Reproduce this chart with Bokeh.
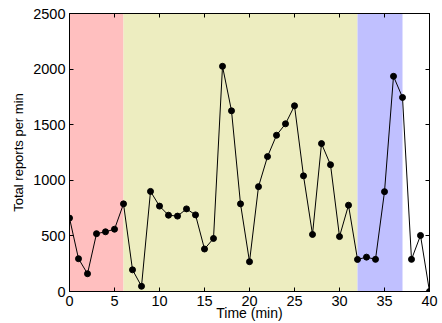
from bokeh.plotting import figure
from bokeh.models import LinearAxis, BoxAnnotation, FixedTicker, Range1d, ColumnDataSource
from bokeh.embed import file_html
from bokeh.resources import INLINE

# ---- data ----
minutes = list(range(41))
reports = [660, 295, 160, 520, 537, 560, 788, 195, 47, 900,
           768, 686, 678, 743, 689, 382, 477, 2025, 1625, 788,
           268, 943, 1213, 1405, 1508, 1670, 1040, 513, 1330, 1140,
           494, 776, 288, 309, 289, 898, 1935, 1745, 289, 504, 0]
phase_starts = [0, 6, 32]
phase_ends = [6, 32, 37]
phase_colors = ["#FFBFBF", "#EDEDC0", "#C0C0FF"]
x_ticks = [0, 5, 10, 15, 20, 25, 30, 35, 40]
y_ticks = [0, 500, 1000, 1500, 2000, 2500]
x_title = "Time (min)"
y_title = "Total reports per min"

FONT = "Liberation Sans"

p = figure(width=442, height=323, output_backend="svg", toolbar_location=None,
           x_range=Range1d(0, 40), y_range=Range1d(0, 2500),
           min_border_left=69, min_border_right=13, min_border_top=13, min_border_bottom=32)
p.background_fill_color = "white"
p.border_fill_color = "white"
p.outline_line_color = "black"
p.xgrid.visible = False
p.ygrid.visible = False

for s, e, c in zip(phase_starts, phase_ends, phase_colors):
    p.add_layout(BoxAnnotation(left=s, right=e, fill_color=c, fill_alpha=1.0,
                               line_alpha=0, level="underlay"))

src = ColumnDataSource(dict(x=minutes, y=reports))
p.line("x", "y", source=src, line_color="black", line_width=1)
p.scatter("x", "y", source=src, size=6, fill_color="black", line_color="black")

def style(ax, ticks, show_labels):
    ax.ticker = FixedTicker(ticks=ticks)
    ax.major_tick_in = 4
    ax.major_tick_out = 0
    ax.minor_tick_in = 0
    ax.minor_tick_out = 0
    ax.axis_line_color = "black"
    ax.major_tick_line_color = "black"
    ax.major_label_text_font = FONT
    ax.major_label_text_color = "black"
    if show_labels:
        ax.major_label_text_font_size = "14.5px"
    else:
        ax.major_label_overrides = {t: "" for t in ticks}
        ax.major_label_text_font_size = "1px"
        ax.major_label_standoff = 0

xa = p.xaxis[0]
ya = p.yaxis[0]
style(xa, x_ticks, True)
style(ya, y_ticks, True)
xa.major_label_standoff = 4
ya.major_label_standoff = 4
xa.axis_label = x_title
ya.axis_label = y_title
for ax in (xa, ya):
    ax.axis_label_text_font = FONT
    ax.axis_label_text_font_style = "normal"
    ax.axis_label_text_color = "black"
xa.axis_label_text_font_size = "14px"
ya.axis_label_text_font_size = "13px"
xa.axis_label_standoff = -4
ya.axis_label_standoff = 4

top = LinearAxis()
style(top, x_ticks, False)
p.add_layout(top, "above")
right = LinearAxis()
style(right, y_ticks, False)
p.add_layout(right, "right")

open("out.html", "w").write(file_html(p, INLINE))
